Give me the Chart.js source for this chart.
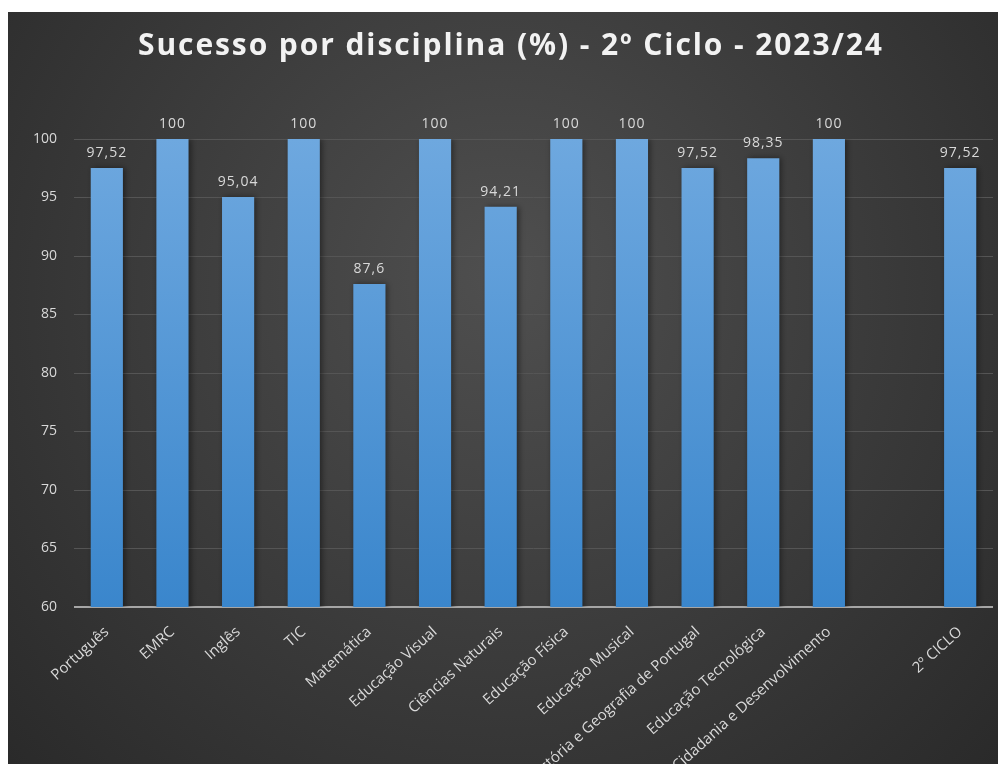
<!DOCTYPE html>
<html>
<head>
<meta charset="utf-8">
<script src="https://cdn.jsdelivr.net/npm/chart.js@4/dist/chart.umd.min.js"></script>
<style>
  html, body { margin: 0; padding: 0; background: #fff; }
  #wrap { position: absolute; left: 8px; top: 12px; width: 990px; height: 752px; }
</style>
</head>
<body>
<div id="wrap"><canvas id="chartCanvas"></canvas></div>
<script>
const categories = ['Português', 'EMRC', 'Inglês', 'TIC', 'Matemática', 'Educação Visual',
  'Ciências Naturais', 'Educação Física', 'Educação Musical', 'História e Geografia de Portugal',
  'Educação Tecnológica', 'Cidadania e Desenvolvimento', '', '2º CICLO'];
const values = [97.52, 100, 95.04, 100, 87.6, 100, 94.21, 100, 100, 97.52, 98.35, 100, null, 97.52];
const yTicks = [60, 65, 70, 75, 80, 85, 90, 95, 100];
const titleText = 'Sucesso por disciplina (%) - 2º Ciclo - 2023/24';

const textColor = '#d9d9d9';

// dark radial background
const bgPlugin = {
  id: 'bg',
  beforeDraw(chart) {
    const ctx = chart.ctx;
    const w = chart.width, h = chart.height;
    const g = ctx.createRadialGradient(w * 0.5, h * 0.35, 20, w * 0.5, h * 0.4, w * 0.75);
    g.addColorStop(0, '#4e4e4e');
    g.addColorStop(1, '#262626');
    ctx.save();
    ctx.fillStyle = g;
    ctx.fillRect(0, 0, w, h);
    ctx.restore();
  }
};

// spaced-out title (Chart.js title has no letter spacing)
const titlePlugin = {
  id: 'spacedTitle',
  afterDraw(chart) {
    const ctx = chart.ctx;
    ctx.save();
    ctx.font = 'bold 30px "Open Sans"';
    ctx.letterSpacing = '0px';
    const w = ctx.measureText(titleText).width;
    const sp = Math.max(0, (744 - w) / (titleText.length - 1));
    ctx.letterSpacing = sp + 'px';
    ctx.fillStyle = '#f2f2f2';
    ctx.textAlign = 'left';
    ctx.textBaseline = 'alphabetic';
    ctx.fillText(titleText, 130, 43);
    ctx.restore();
  }
};

// soft shadow behind bars
const shadowPlugin = {
  id: 'barShadow',
  beforeDatasetsDraw(chart) {
    const ctx = chart.ctx;
    ctx.save();
    ctx.shadowColor = 'rgba(0,0,0,0.45)';
    ctx.shadowBlur = 6;
    ctx.shadowOffsetX = 2;
    ctx.shadowOffsetY = 0;
  },
  afterDatasetsDraw(chart) {
    chart.ctx.restore();
  }
};

// value labels above bars, with decimal comma
const valueLabels = {
  id: 'valueLabels',
  afterDatasetsDraw(chart) {
    const ctx = chart.ctx;
    const meta = chart.getDatasetMeta(0);
    ctx.save();
    ctx.font = '14px "Open Sans"';
    ctx.letterSpacing = '1px';
    ctx.fillStyle = textColor;
    ctx.textAlign = 'center';
    ctx.textBaseline = 'bottom';
    meta.data.forEach((bar, i) => {
      const v = values[i];
      if (v === null) return;
      ctx.fillText(String(v).replace('.', ','), bar.x, bar.y - 8);
    });
    ctx.restore();
  }
};

const data = {
  labels: categories,
  datasets: [{
    data: values,
    backgroundColor: (c) => {
      const area = c.chart.chartArea;
      if (!area) return '#5b9bd5';
      const g = c.chart.ctx.createLinearGradient(0, area.top, 0, area.bottom);
      g.addColorStop(0, '#6ea8df');
      g.addColorStop(1, '#3a86cc');
      return g;
    },
    barPercentage: 0.49,
    categoryPercentage: 1
  }]
};

const config = {
  type: 'bar',
  data,
  plugins: [bgPlugin, shadowPlugin, valueLabels, titlePlugin],
  options: {
    responsive: true,
    maintainAspectRatio: false,
    animation: false,
    layout: { padding: { left: 0, right: 5, top: 127, bottom: 0 } },
    plugins: {
      legend: { display: false },
      tooltip: { enabled: false },
      title: { display: false }
    },
    scales: {
      x: {
        grid: { display: false },
        border: { display: false },
        ticks: {
          color: textColor,
          font: { family: '"Open Sans"', size: 15 },
          minRotation: 42,
          maxRotation: 42,
          autoSkip: false,
          padding: 8
        },
        afterFit(scale) { scale.height = 157; }
      },
      y: {
        min: 60,
        max: 100,
        afterBuildTicks(scale) { scale.ticks = yTicks.map(v => ({ value: v })); },
        border: { display: false },
        grid: {
          drawTicks: false,
          color: (c) => c.tick && c.tick.value === 60 ? '#a6a6a6' : '#555555',
          lineWidth: (c) => c.tick && c.tick.value === 60 ? 2 : 1
        },
        ticks: {
          color: textColor,
          font: { family: '"Open Sans"', size: 14 },
          padding: 17
        },
        afterFit(scale) { scale.width = 66; }
      }
    }
  }
};

const chart = new Chart(document.getElementById('chartCanvas'), config);
</script>
</body>
</html>
